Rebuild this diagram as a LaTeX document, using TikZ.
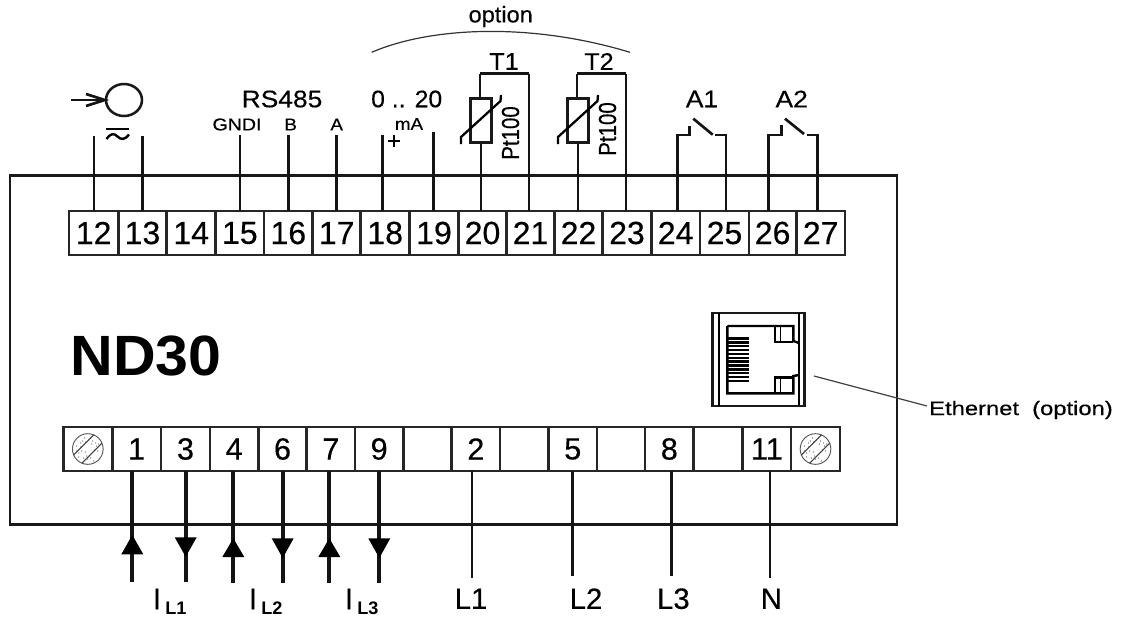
\documentclass[tikz,border=0pt]{standalone}
\usepackage{fontspec}
\usepackage{graphicx}
\usetikzlibrary{shapes.geometric}
\setmainfont[FakeBold=0.3,BoldFeatures={FakeBold=0}]{Liberation Sans}
\newcommand{\fsz}[1]{\fontsize{#1}{#1}\selectfont}
\newcommand{\sx}[2]{\scalebox{#1}[1]{#2}}
\tikzset{
  wire/.style={line width=2pt,black!92},
  thin wire/.style={line width=.9pt,black!75},
  cell/.style={draw,line width=2pt,black!85,inner sep=0pt,outer sep=0pt,minimum height=33pt,text=black,font=\fsz{24}},
  lab/.style={inner sep=0pt,text=black},
  screw/.style={draw=black!65,line width=.7pt,circle,inner sep=0pt,minimum size=23pt},
}
\begin{document}
\begin{tikzpicture}[x=.75pt,y=-.75pt]
\useasboundingbox (0,0) rectangle (1124,619);
\fill[white] (0,0) rectangle (1124,619);
% case
\node[draw,line width=2pt,black!90,inner sep=0pt,minimum width=887*.75pt,minimum height=349*.75pt] (case) at (453.5,350) {};
% top terminals
\foreach \n/\a/\b in {12/69/118.3,13/118.3/166.7,14/166.7/215.7,15/215.7/264,16/264/312.7,17/312.7/360.7,18/360.7/409.7,19/409.7/458.3,20/458.3/506.7,21/506.7/554.3,22/554.3/602.7,23/602.7/651.3,24/651.3/700,25/700/749,26/749/796.3,27/796.3/845}{
  \pgfmathsetmacro{\cx}{(\a+\b)/2}
  \pgfmathsetmacro{\w}{(\b-\a)*.75}
  \node[cell,fill=white,minimum width=\w pt] (t\n) at (\cx,233) {\n};
}
% bottom terminals
\foreach \n/\a/\b/\t in {s1/63.3/112.3/{},1/112.3/161/1,3/161/210/3,4/210/258.3/4,6/258.3/306.7/6,7/306.7/355/7,9/355/403.3/9,e1/403.3/451.7/{},2/451.7/500/2,e2/500/548.5/{},5/548.5/597/5,e3/597/645/{},8/645/693.7/8,e4/693.7/742.7/{},11/742.7/791/11,s2/791/840/{}}{
  \pgfmathsetmacro{\cx}{(\a+\b)/2}
  \pgfmathsetmacro{\w}{(\b-\a)*.75}
  \node[cell,fill=white,minimum width=\w pt,font=\fsz{23}] (b\n) at (\cx,449) {\t};
}
% top free ends
\coordinate (c12) at (94,136);
\coordinate (c13) at (142.7,136);
\coordinate (c15) at (240,135);
\coordinate (c16) at (288.3,135);
\coordinate (c17) at (336.7,135);
\coordinate (c18) at (382.7,135);
\coordinate (c19) at (433.3,132);
\foreach \n in {12,13,15,16,17,18,19}{
  \draw[wire] (c\n) -- (c\n |- t\n.north);
}
% source
\node[draw,line width=1.9pt,black!90,ellipse,inner sep=0pt,minimum width=27pt,minimum height=24pt] (src) at (124,100) {};
\coordinate (srcin) at (70.7,100);
\draw[wire] (srcin) -- (src.west);
\draw[wire] (86,94) -- (src.west) -- (86,106);
\draw[line width=1.8pt] (106,129) -- (129,129);
\draw[line width=1.8pt] (106.5,139) .. controls (111,133) and (114,133) .. (117.5,136.5) .. controls (121,140) and (125,140) .. (129,134.5);
% thermistors
\foreach \i/\d/\ty in {1/0/133,2/97/129}{
  \begin{scope}[xshift=\d*.75pt]
    \node[draw,line width=1.9pt,black!90,inner sep=0pt,minimum width=15.5pt,minimum height=33pt] (r\i) at (481,120.3) {};
    \coordinate (rtop\i) at (480,73.7);
    \draw[wire] (rtop\i) -- (rtop\i |- r\i.north);
    \coordinate (rr\i) at (529,73.7);
    \draw[wire] (rtop\i) -- (rr\i);
    \draw[line width=1.7pt] (461,144) -- (461,137) -- (500.5,101) -- (501,95);
    \node[lab,rotate=90,font=\fsz{18.5}] (pt\i) at (510.5,\ty) {\sx{.83}{Pt100}};
  \end{scope}
}
\draw[wire] (r1.south) -- (r1.south |- t20.north);
\draw[wire] (r2.south) -- (r2.south |- t22.north);
\draw[wire] (rr1) -- (rr1 |- t21.north);
\draw[wire] (rr2) -- (rr2 |- t23.north);
% relays
\coordinate (al1) at (677.7,135);
\coordinate (ar1) at (726,135);
\coordinate (al2) at (768.3,135);
\coordinate (ar2) at (817.3,135);
\draw[wire] (t24.north -| al1) -- (al1) -- (689.3,135) -- (689.3,126);
\draw[wire] (693.3,118.7) -- (712.7,134.7);
\draw[wire] (715.3,135) -- (ar1) -- (ar1 |- t25.north);
\draw[wire] (t26.north -| al2) -- (al2) -- (781.7,135) -- (781.7,125);
\draw[wire] (785,118.7) -- (804,134);
\draw[wire] (806.7,135) -- (ar2) -- (ar2 |- t27.north);
% arc
\coordinate (arcL) at (371.7,52.3);
\coordinate (arcR) at (630,52.3);
\draw[line width=.9pt,black!80] (arcL) .. controls (430,27) and (530,22) .. (arcR);
% texts
\node[lab,font=\fsz{17}] (option) at (500.7,16.5) {\sx{1.04}{option}};
\node[lab,font=\fsz{18}] (rs) at (282,99) {\sx{1.1}{RS485}};
\node[lab,font=\fsz{18}] (rng) at (406.7,99) {\sx{1.03}{0 .. 20}};
\node[lab,font=\fsz{12.8}] (gndi) at (237,124.5) {\sx{1.15}{GNDI}};
\node[lab,font=\fsz{12.8}] (lb) at (290.7,124.5) {\sx{1.1}{B}};
\node[lab,font=\fsz{12.8}] (la) at (336.7,124.5) {\sx{1.1}{A}};
\node[lab,font=\fsz{12.8}] (ma) at (409,124) {\sx{1.1}{mA}};
\node[lab,font=\fsz{18}] (plus) at (394,142) {+};
\node[lab,font=\fsz{18}] (lt1) at (504,61.5) {\sx{1.05}{T1}};
\node[lab,font=\fsz{18}] (lt2) at (599,61.5) {\sx{1.05}{T2}};
\node[lab,font=\fsz{18}] (la1) at (702,99) {\sx{1.1}{A1}};
\node[lab,font=\fsz{18}] (la2) at (791.7,99) {\sx{1.1}{A2}};
\node[lab,font=\bfseries\fsz{42.6}] (nd) at (146,355.5) {\sx{1.04}{ND30}};
\node[lab,font=\fsz{14.6},anchor=west] (eth) at (929,410) {\sx{1.22}{Ethernet\ \ (option)}};
\coordinate (ethin) at (814,376);
\draw[thin wire] (ethin) -- ([xshift=-1.5pt,yshift=3pt]eth.west);
% screws
\foreach \i/\s in {1/bs1,2/bs2}{
  \node[screw] (sc\i) at (\s) {};
  \begin{scope}
    \clip (sc\i.center) circle (15.5);
    \foreach \dx/\dy in {-9/-4,-7/2,-5/8,-4/-9,-2/-3,0/-10,3/-9,1/9,5/8,9/3,10/-2,7/-1,4/5,-11/3,-7/6,-1/-7,8/6,-9/-8,-11/-2,-3/11,3/11,11/5,6/-12,-6/-2,-2/7}{
      \fill[black!65] ([xshift=\dx*.75pt,yshift=\dy*.75pt]sc\i.center) circle (.6);
    }
    \draw[black!75,line width=.8pt] ([xshift=-14pt,yshift=-7.8pt]sc\i.center) -- ([xshift=8pt,yshift=14.2pt]sc\i.center);
    \draw[black!75,line width=.8pt] ([xshift=-8pt,yshift=-14.2pt]sc\i.center) -- ([xshift=14pt,yshift=7.8pt]sc\i.center);
  \end{scope}
}
% ethernet jack
\node[draw,line width=2pt,black!90,inner sep=0pt,minimum width=68.7pt,minimum height=69.7pt] (jack) at (758.5,359.5) {};
\draw[line width=1.2pt] (719,313) -- (719,406);
\draw[line width=1.2pt] (799,313) -- (799,406);
\draw[line width=1.8pt] (727.3,326) -- (793.3,326) -- (793.3,341) -- (799,343);
\draw[line width=1.8pt] (727.3,326) -- (727.3,393.3) -- (793.3,393.3) -- (793.3,376) -- (799,375);
\draw[line width=1.6pt] (775,326) -- (775,342) -- (793.3,342);
\draw[line width=1.2pt] (780.5,326) -- (780.5,342);
\draw[line width=1.6pt] (775,393.3) -- (775,377.5) -- (793.3,377.5);
\draw[line width=1.2pt] (780.5,393.3) -- (780.5,377.5);
\foreach \k in {0,...,11}{
  \draw[line width=1.8pt] (728,338.5+\k*3.85) -- (749,338.5+\k*3.85);
}
% bottom wires with arrows
\foreach \n/\x/\e/\tipa/\tipb in {1/132.3/581.7/535/554.3,3/185.7/581.7/556.7/537.3,4/233.3/583/538.3/557,6/282.7/583/558/538.3,7/329.3/583/538.3/557,9/379.3/583/558/538.3}{
  \coordinate (w\n) at (\x,\e);
  \draw[wire,line width=2.8pt] (b\n.south -| w\n) -- (w\n);
  \fill[black] (\x,\tipa) -- (\x-11,\tipb) -- (\x+11,\tipb) -- cycle;
}
\foreach \n/\x/\e in {2/472/578,5/572.3/576,8/671.3/576,11/770/578}{
  \coordinate (w\n) at (\x,\e);
  \draw[wire,line width=1.8pt] (b\n.south -| w\n) -- (w\n);
}
% bottom labels
\foreach \x/\s/\nm in {157/1/i1,253/2/i2,349/3/i3}{
  \node[lab,font=\fsz{22.5}] (\nm) at (\x,599) {I};
  \node[lab,font=\bfseries\fsz{13.6},anchor=west] (\nm s) at (\x+8,608.5) {L\s};
}
\node[lab,font=\fsz{22}] (l1) at (471,598.7) {L1};
\node[lab,font=\fsz{22}] (l2) at (586,598.7) {L2};
\node[lab,font=\fsz{22}] (l3) at (673.4,598.7) {L3};
\node[lab,font=\fsz{22}] (ln) at (771.4,598.7) {N};
\end{tikzpicture}
\end{document}
